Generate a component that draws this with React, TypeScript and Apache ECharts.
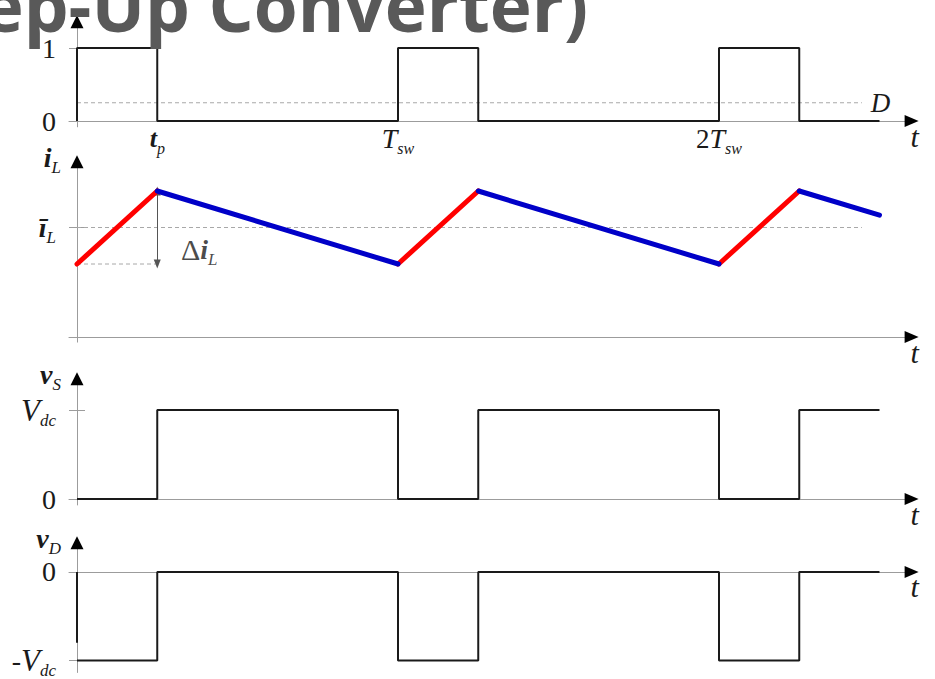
import React, { useEffect, useRef } from 'react';
import * as echarts from 'echarts';

// Time is expressed in switching periods (T_sw = 1), duty ratio D = 0.25.
const dutyRatio = 0.25;
const guideSpan = [0, 2.445];

// Gate signal q(t)
const gateTimes = [0, 0, 0.25, 1, 1.25, 2, 2.25, 2.5];
const gateState = [0, 1, 0, 1, 0, 1, 0, 0];

// Inductor current i_L(t): valleys at 1, peaks at 2
const currentTimes = [0, 0.25, 1, 1.25, 2, 2.25, 2.5];
const currentValues = [1, 2, 1, 2, 1, 2, 1.67];
const currentMean = 1.5;

// Switch voltage v_S(t), in units of V_dc
const switchTimes = [0, 0.25, 1, 1.25, 2, 2.25, 2.5];
const switchValues = [0, 1, 0, 1, 0, 1, 1];

// Diode voltage v_D(t), in units of V_dc
const diodeTimes = [0, 0.25, 1, 1.25, 2, 2.25, 2.5];
const diodeValues = [-1, 0, -1, 0, -1, 0, 0];
const diodeEdgeValues = [0, -0.8];

// Tick labels
const timeTickValues = [0.25, 1, 2];
const timeTickLabels = ['{b|t}{s|p}', '{i|T}{s|sw}', '{n|2}{i|T}{s|sw}'];
const gateTickValues = [0, 1];
const gateTickLabels = ['{N|0}', '{N|1}'];
const currentTickValues = [currentMean];
const currentTickLabels = ['{B|ī}{S|L}'];
const switchTickValues = [0, 1];
const switchTickLabels = ['{N|0}', '{I|V}{S|dc}'];
const diodeTickValues = [-1, 0];
const diodeTickLabels = ['{N|-}{I|V}{S|dc}', '{N|0}'];

const SERIF = '"Liberation Serif", "Times New Roman", serif';
const INK = '#1a1a1a';
const AXIS = '#9c9c9c';
const GUIDE = '#a8a8a8';

const rich: any = {
  // time-axis labels
  n: { fontFamily: SERIF, fontSize: 27, color: INK },
  i: { fontFamily: SERIF, fontStyle: 'italic', fontSize: 28, color: INK },
  b: { fontFamily: SERIF, fontStyle: 'italic', fontWeight: 'bold', fontSize: 26, color: INK },
  s: { fontFamily: SERIF, fontStyle: 'italic', fontSize: 16, color: INK, padding: [20, 0, 0, 0] },
  // level labels and axis names
  N: { fontFamily: SERIF, fontSize: 28, color: INK },
  I: { fontFamily: SERIF, fontStyle: 'italic', fontSize: 31, color: INK },
  B: { fontFamily: SERIF, fontStyle: 'italic', fontWeight: 'bold', fontSize: 28, color: INK },
  S: { fontFamily: SERIF, fontStyle: 'italic', fontSize: 17, color: INK, padding: [20, 0, 0, 0] },
  // ripple annotation
  d: { fontFamily: SERIF, fontSize: 30, color: INK },
};

// Panel layout: pixel row of the zero level and pixels per unit
const X_ZERO = 77;
const X_UNIT = 321;
const X_MIN = -0.025;
const X_MAX = 2.6;
const panels = [
  { zero: 121, unit: 73, min: -0.08, max: 1.36, ticks: gateTickValues, labels: gateTickLabels, marks: [1], name: '' },
  { zero: 337, unit: 73, min: -0.07, max: 2.4, ticks: currentTickValues, labels: currentTickLabels, marks: currentTickValues, name: '{B|i}{S|L}' },
  { zero: 499, unit: 89, min: -0.067, max: 1.35, ticks: switchTickValues, labels: switchTickLabels, marks: [1], name: '{B|v}{S|S}' },
  { zero: 572, unit: 89, min: -1.135, max: 0.33, ticks: diodeTickValues, labels: diodeTickLabels, marks: [-1], name: '{B|v}{S|D}' },
];

const pairs = (xs: number[], ys: number[]) => xs.map((x, k) => [x, ys[k]]);

function buildOption() {
  const grids = panels.map((p) => ({
    left: X_ZERO + X_MIN * X_UNIT,
    width: (X_MAX - X_MIN) * X_UNIT,
    top: p.zero - p.max * p.unit,
    height: (p.max - p.min) * p.unit,
  }));

  const xAxes: any[] = [];
  const yAxes: any[] = [];
  panels.forEach((p, k) => {
    // gray axis line with labels
    xAxes.push({
      gridIndex: k,
      type: 'value',
      min: X_MIN,
      max: X_MAX,
      position: 'bottom',
      axisLine: { onZero: true, lineStyle: { color: AXIS, width: 1 } },
      axisTick: { show: false },
      splitLine: { show: false },
      axisLabel:
        k === 0
          ? {
              customValues: timeTickValues,
              margin: -6,
              formatter: (v: number) => timeTickLabels[timeTickValues.indexOf(v)] ?? '',
              rich,
            }
          : { show: false },
      name: 't',
      nameLocation: 'end',
      nameGap: 3,
      nameTextStyle: {
        fontFamily: SERIF,
        fontStyle: 'italic',
        fontSize: 30,
        color: INK,
        align: 'center',
        verticalAlign: 'top',
      },
    });
    // black arrow head only
    xAxes.push({
      gridIndex: k,
      type: 'value',
      min: X_MIN,
      max: X_MAX,
      position: 'bottom',
      axisLine: {
        onZero: true,
        symbol: ['none', 'triangle'],
        symbolSize: [12, 14],
        lineStyle: { color: '#000', width: 0 },
      },
      axisTick: { show: false },
      axisLabel: { show: false },
      splitLine: { show: false },
    });
    yAxes.push({
      gridIndex: k,
      type: 'value',
      min: p.min,
      max: p.max,
      position: 'left',
      axisLine: { onZero: true, lineStyle: { color: AXIS, width: 1 } },
      axisTick: { show: true, customValues: p.marks, length: 8, lineStyle: { color: AXIS } },
      splitLine: { show: false },
      axisLabel: {
        customValues: p.ticks,
        margin: 13,
        formatter: (v: number) => p.labels[p.ticks.indexOf(v)] ?? '',
        rich,
      },
      name: p.name,
      nameLocation: 'end',
      nameGap: 0,
      nameTextStyle: { align: 'right', verticalAlign: 'middle', padding: [0, 16, 8, 0], rich },
    });
    yAxes.push({
      gridIndex: k,
      type: 'value',
      min: p.min,
      max: p.max,
      position: 'left',
      axisLine: {
        onZero: true,
        symbol: ['none', 'triangle'],
        symbolSize: [13, 13],
        lineStyle: { color: '#000', width: 0 },
      },
      axisTick: { show: k > 0, inside: true, customValues: p.marks, length: 8, lineStyle: { color: AXIS } },
      axisLabel: { show: false },
      splitLine: { show: false },
    });
  });

  const ax = (k: number) => ({ xAxisIndex: 2 * k, yAxisIndex: 2 * k });
  const square = { type: 'line', step: 'end', symbol: 'none', silent: true, lineStyle: { color: INK, width: 2 }, z: 4 };
  const dashed = { type: 'line', symbol: 'none', silent: true, lineStyle: { color: GUIDE, width: 1, type: [4, 3] }, z: 2 };

  const series: any[] = [];

  // Panel 1: gate signal and duty-ratio level
  series.push({ ...dashed, ...ax(0), name: 'D', data: guideSpan.map((x) => [x, dutyRatio]),
    endLabel: { show: true, formatter: 'D', distance: 9, fontFamily: SERIF, fontStyle: 'italic', fontSize: 27, color: INK } });
  series.push({ ...square, ...ax(0), name: 'q', data: pairs(gateTimes, gateState) });

  // Panel 2: inductor current
  series.push({ ...dashed, ...ax(1), name: 'mean', data: guideSpan.map((x) => [x, currentMean]) });
  series.push({
    ...dashed,
    ...ax(1),
    name: 'valley',
    data: [[currentTimes[0], currentValues[0]], [currentTimes[1], currentValues[0]]],
    markLine: {
      silent: true,
      symbol: ['triangle', 'triangle'],
      symbolSize: [7, 9],
      label: { show: false },
      lineStyle: { color: '#555', width: 1, type: 'solid' },
      data: [[{ coord: [currentTimes[1], currentValues[1]] }, { coord: [currentTimes[1], currentValues[0]] }]],
    },
  });
  for (let k = 0; k < currentTimes.length - 1; k++) {
    const rising = currentValues[k + 1] > currentValues[k];
    series.push({
      type: 'line',
      ...ax(1),
      name: rising ? 'charge' : 'discharge',
      symbol: 'none',
      silent: true,
      z: rising ? 5 : 6,
      lineStyle: { color: rising ? '#ff0000' : '#0000c8', width: 5, cap: 'round' },
      data: [[currentTimes[k], currentValues[k]], [currentTimes[k + 1], currentValues[k + 1]]],
    });
  }
  series.push({
    type: 'scatter',
    ...ax(1),
    name: 'ripple',
    symbolSize: 0,
    silent: true,
    data: [[dutyRatio, currentMean]],
    label: { show: true, position: 'inside', offset: [42, 22], formatter: '{d|Δ}{B|i}{S|L}', rich },
  });

  // Panel 3: switch voltage
  series.push({ ...square, ...ax(2), name: 'vS', data: pairs(switchTimes, switchValues) });

  // Panel 4: diode voltage
  series.push({ ...square, ...ax(3), name: 'vD', data: pairs(diodeTimes, diodeValues) });
  series.push({ ...square, ...ax(3), step: false, name: 'vD edge', data: diodeEdgeValues.map((v) => [diodeTimes[0], v]) });

  return {
    animation: false,
    backgroundColor: '#ffffff',
    grid: grids,
    xAxis: xAxes,
    yAxis: yAxes,
    series,
    graphic: [
      {
        type: 'text',
        x: 588,
        y: 4,
        z: 100,
        style: {
          text: '(Step-Up Converter)',
          fill: '#595959',
          fontFamily: '"Open Sans", sans-serif',
          fontWeight: 'bold',
          fontSize: 71,
          align: 'right',
          verticalAlign: 'middle',
        },
      },
    ],
  };
}

export default function App() {
  const ref = useRef<HTMLDivElement>(null);
  useEffect(() => {
    document.body.style.margin = '0';
    const chart = echarts.init(ref.current!, null, { renderer: 'svg' });
    chart.setOption(buildOption() as any);
    return () => chart.dispose();
  }, []);
  return <div ref={ref} style={{ width: 935, height: 679 }} />;
}
